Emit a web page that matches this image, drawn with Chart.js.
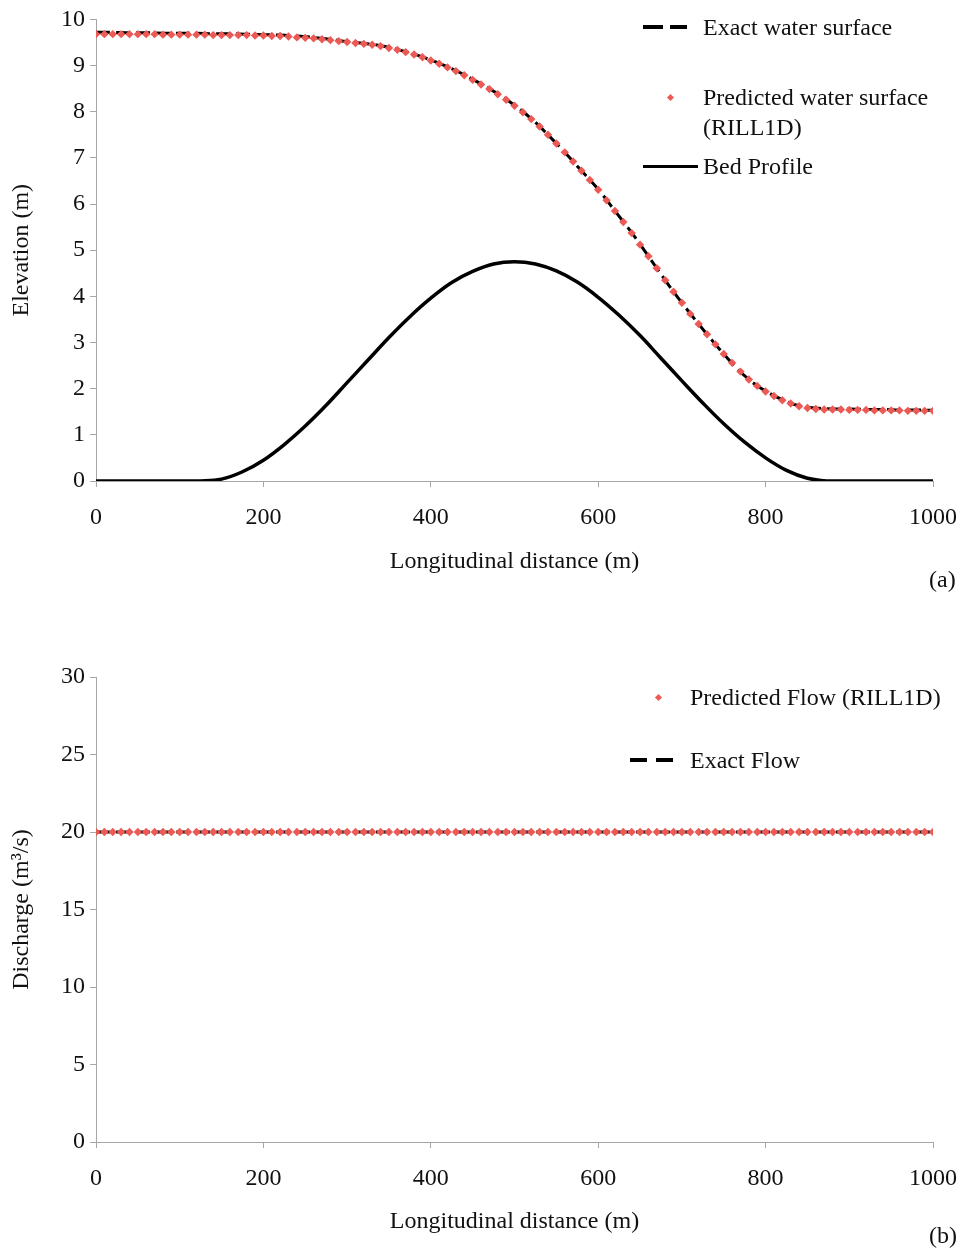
<!DOCTYPE html>
<html>
<head>
<meta charset="utf-8">
<script src="https://cdn.jsdelivr.net/npm/chart.js@4.4.1/dist/chart.umd.min.js"></script>
<style>
    body { margin: 0; background: #fff; }
    #page { position: relative; width: 961px; height: 1251px; font-family: "Liberation Serif", "Times New Roman", serif; color: #111; }
    canvas { position: absolute; left: 0; }
    .legend-text { position: absolute; font-size: 24px; line-height: 30px; white-space: nowrap; }
    .dash { position: absolute; height: 4px; background: #000; }
    .solid { position: absolute; height: 3px; background: #000; }
    .diamond { position: absolute; width: 5px; height: 5px; background: #ec5a55; transform: rotate(45deg); }
    .panel-tag { position: absolute; font-size: 24px; }
</style>
</head>
<body>
<div id="page">
    <canvas id="surfaceChart" width="961" height="600" style="top:0"></canvas>
    <canvas id="flowChart" width="961" height="631" style="top:620px"></canvas>

    <!-- legend (a) -->
    <div class="dash" style="left:643px; top:25px; width:20px"></div>
    <div class="dash" style="left:670px; top:25px; width:17px"></div>
    <div class="legend-text" style="left:703px; top:12px">Exact water surface</div>
    <div class="diamond" style="left:668px; top:95px"></div>
    <div class="legend-text" style="left:703px; top:82px">Predicted water surface<br>(RILL1D)</div>
    <div class="solid" style="left:643px; top:165px; width:55px"></div>
    <div class="legend-text" style="left:703px; top:151px">Bed Profile</div>
    <div class="panel-tag" style="left:929px; top:566px">(a)</div>

    <!-- legend (b) -->
    <div class="diamond" style="left:656px; top:695px"></div>
    <div class="legend-text" style="left:690px; top:682px">Predicted Flow (RILL1D)</div>
    <div class="dash" style="left:630px; top:758px; width:17px"></div>
    <div class="dash" style="left:656px; top:758px; width:17px"></div>
    <div class="legend-text" style="left:690px; top:745px">Exact Flow</div>
    <div class="panel-tag" style="left:929px; top:1222px">(b)</div>
</div>

<script>
// model stations (m)
const stations = [
    0, 10, 20, 30, 40, 50, 60, 70, 80, 90,
    100, 110, 120, 130, 140, 150, 160, 170, 180, 190,
    200, 210, 220, 230, 240, 250, 260, 270, 280, 290,
    300, 310, 320, 330, 340, 350, 360, 370, 380, 390,
    400, 410, 420, 430, 440, 450, 460, 470, 480, 490,
    500, 510, 520, 530, 540, 550, 560, 570, 580, 590,
    600, 610, 620, 630, 640, 650, 660, 670, 680, 690,
    700, 710, 720, 730, 740, 750, 760, 770, 780, 790,
    800, 810, 820, 830, 840, 850, 860, 870, 880, 890,
    900, 910, 920, 930, 940, 950, 960, 970, 980, 990,
    1000,
];

// RILL1D water surface (m)
const predictedSurface = [
    9.68, 9.68, 9.68, 9.68, 9.68, 9.68, 9.68, 9.68, 9.67, 9.67,
    9.67, 9.67, 9.67, 9.67, 9.66, 9.66, 9.66, 9.66, 9.66, 9.65,
    9.65, 9.64, 9.64, 9.63, 9.61, 9.60, 9.59, 9.57, 9.55, 9.53,
    9.51, 9.49, 9.47, 9.45, 9.42, 9.38, 9.34, 9.29, 9.24, 9.18,
    9.11, 9.04, 8.96, 8.88, 8.79, 8.69, 8.59, 8.49, 8.38, 8.26,
    8.13, 7.99, 7.84, 7.68, 7.50, 7.31, 7.12, 6.92, 6.72, 6.52,
    6.31, 6.08, 5.85, 5.61, 5.37, 5.12, 4.87, 4.61, 4.35, 4.10,
    3.86, 3.62, 3.40, 3.18, 2.96, 2.75, 2.56, 2.37, 2.20, 2.06,
    1.94, 1.84, 1.75, 1.68, 1.62, 1.58, 1.56, 1.55, 1.55, 1.55,
    1.54, 1.54, 1.54, 1.53, 1.53, 1.53, 1.53, 1.52, 1.52, 1.52,
    1.52,
];

// analytical water surface (m)
const exactX = [
    0, 20, 40, 60, 80, 100, 120, 140, 160, 180,
    200, 220, 240, 260, 280, 300, 320, 340, 360, 380,
    400, 420, 440, 460, 480, 500, 520, 540, 560, 580,
    600, 620, 640, 660, 680, 700, 720, 740, 760, 780,
    800, 820, 840, 860, 880, 900, 920, 940, 960, 980,
    1000,
];
const exactSurface = [
    9.72, 9.72, 9.71, 9.71, 9.70, 9.70, 9.70, 9.69, 9.69, 9.68,
    9.67, 9.66, 9.64, 9.61, 9.57, 9.52, 9.48, 9.43, 9.35, 9.25,
    9.12, 8.97, 8.80, 8.60, 8.39, 8.14, 7.85, 7.50, 7.12, 6.72,
    6.32, 5.85, 5.38, 4.87, 4.35, 3.86, 3.40, 2.96, 2.55, 2.20,
    1.95, 1.76, 1.63, 1.58, 1.56, 1.56, 1.55, 1.55, 1.54, 1.54,
    1.53,
];

// channel bed (m)
const bedX = [
    0, 25, 50, 75, 100, 125, 150, 175, 200, 225,
    250, 275, 300, 325, 350, 375, 400, 425, 450, 475,
    500, 525, 550, 575, 600, 625, 650, 675, 700, 725,
    750, 775, 800, 825, 850, 875, 900, 925, 950, 975,
    1000,
];
const bedElevation = [
    0, 0, 0, 0, 0, 0, 0.04, 0.20, 0.45, 0.79,
    1.19, 1.64, 2.13, 2.62, 3.11, 3.56, 3.96, 4.30, 4.54, 4.70,
    4.75, 4.70, 4.55, 4.31, 3.98, 3.59, 3.15, 2.66, 2.17, 1.69,
    1.24, 0.84, 0.50, 0.23, 0.06, 0, 0, 0, 0, 0,
    0,
];

// discharge (m3/s)
const predictedFlow = [
    20, 20, 20, 20, 20, 20, 20, 20, 20, 20,
    20, 20, 20, 20, 20, 20, 20, 20, 20, 20,
    20, 20, 20, 20, 20, 20, 20, 20, 20, 20,
    20, 20, 20, 20, 20, 20, 20, 20, 20, 20,
    20, 20, 20, 20, 20, 20, 20, 20, 20, 20,
    20, 20, 20, 20, 20, 20, 20, 20, 20, 20,
    20, 20, 20, 20, 20, 20, 20, 20, 20, 20,
    20, 20, 20, 20, 20, 20, 20, 20, 20, 20,
    20, 20, 20, 20, 20, 20, 20, 20, 20, 20,
    20, 20, 20, 20, 20, 20, 20, 20, 20, 20,
    20,
];
const exactFlowX = [0, 1000];
const exactFlow = [20, 20];

const xTickValues = [0, 200, 400, 600, 800, 1000];

const FONT = 'Liberation Serif';
const FONT_SIZE = 24;
const AXIS_GREY = '#a6a6a6';
const RED = '#ec5a55';

function toPoints(xs, ys) {
    return xs.map((x, i) => ({ x, y: ys[i] }));
}

function buildScales(yMax, yStep, yTitle, xHeight) {
    return {
        x: {
            type: 'linear',
            min: 0,
            max: 1000,
            afterBuildTicks: (scale) => {
                scale.ticks = xTickValues.map((value) => ({ value }));
            },
            afterFit: (scale) => {
                scale.height = xHeight;
                // the end labels may hang past the plot edge
                scale.paddingLeft = 0;
                scale.paddingRight = 0;
            },
            border: { color: AXIS_GREY, width: 1 },
            grid: { drawOnChartArea: false, color: AXIS_GREY, tickLength: 6 },
            ticks: {
                color: '#111',
                padding: 16,
                maxRotation: 0,
                font: { family: FONT, size: FONT_SIZE },
                callback: (value) => String(value),
            },
            title: {
                display: true,
                text: 'Longitudinal distance (m)',
                color: '#111',
                padding: 0,
                font: { family: FONT, size: FONT_SIZE },
            },
        },
        y: {
            min: 0,
            max: yMax,
            afterFit: (scale) => { scale.width = 96; },
            border: { color: AXIS_GREY, width: 1 },
            grid: { drawOnChartArea: false, color: AXIS_GREY, tickLength: 6 },
            ticks: { stepSize: yStep, color: '#111', padding: 5, font: { family: FONT, size: FONT_SIZE } },
            title: {
                display: true,
                text: yTitle,
                color: '#111',
                padding: { top: 7, bottom: 0 },
                font: { family: FONT, size: FONT_SIZE },
            },
        },
    };
}

function baseOptions(padding, scales) {
    return {
        responsive: false,
        animation: false,
        devicePixelRatio: 1,
        layout: { padding },
        plugins: { legend: { display: false }, tooltip: { enabled: false } },
        scales,
    };
}

function buildSurfaceChart(ctx) {
    return new Chart(ctx, {
        type: 'line',
        data: {
            datasets: [
                {
                    label: 'Predicted water surface (RILL1D)',
                    data: toPoints(stations, predictedSurface),
                    showLine: false,
                    pointStyle: 'rectRot',
                    pointRadius: 4.2,
                    pointBackgroundColor: RED,
                    pointBorderWidth: 0,
                    order: 0,
                },
                {
                    label: 'Exact water surface',
                    data: toPoints(exactX, exactSurface),
                    borderColor: '#000',
                    borderWidth: 3,
                    borderDash: [14, 6],
                    pointRadius: 0,
                    tension: 0.4,
                    order: 1,
                },
                {
                    label: 'Bed Profile',
                    data: toPoints(bedX, bedElevation),
                    borderColor: '#000',
                    borderWidth: 3.5,
                    pointRadius: 0,
                    tension: 0.4,
                    order: 2,
                },
            ],
        },
        options: baseOptions(
            { top: 17, right: 28, bottom: 24, left: 0 },
            buildScales(10, 1, 'Elevation (m)', 95)
        ),
    });
}

function buildFlowChart(ctx) {
    return new Chart(ctx, {
        type: 'line',
        data: {
            datasets: [
                {
                    label: 'Predicted Flow (RILL1D)',
                    data: toPoints(stations, predictedFlow),
                    showLine: false,
                    pointStyle: 'rectRot',
                    pointRadius: 4.2,
                    pointBackgroundColor: RED,
                    pointBorderWidth: 0,
                    order: 0,
                },
                {
                    label: 'Exact Flow',
                    data: toPoints(exactFlowX, exactFlow),
                    borderColor: '#000',
                    borderWidth: 3,
                    borderDash: [14, 6],
                    pointRadius: 0,
                    order: 1,
                },
            ],
        },
        options: baseOptions(
            { top: 57, right: 28, bottom: 15, left: 0 },
            buildScales(30, 5, 'Discharge (m³/s)', 94)
        ),
    });
}

buildSurfaceChart(document.getElementById('surfaceChart'));
buildFlowChart(document.getElementById('flowChart'));
</script>
</body>
</html>
